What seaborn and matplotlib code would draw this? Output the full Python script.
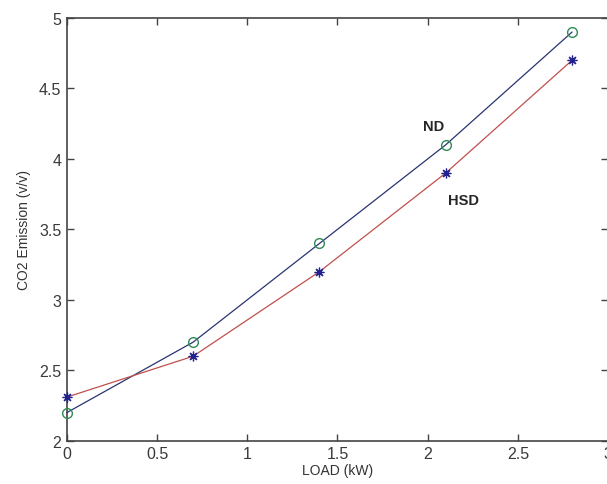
import matplotlib
matplotlib.use("Agg")
import matplotlib.pyplot as plt
import seaborn as sns

# Data
load_kw = [0.0, 0.7, 1.4, 2.1, 2.8]
co2_nd = [2.2, 2.7, 3.4, 4.1, 4.9]
co2_hsd = [2.31, 2.6, 3.2, 3.9, 4.7]

sns.set_style("white")
plt.rcParams['font.family'] = ['Liberation Sans', 'DejaVu Sans']

fig = plt.figure(figsize=(6.07, 4.85), dpi=100)
ax = fig.add_axes([0.11, 0.089, 0.892, 0.872])

# ND: blue line, green open circles
sns.lineplot(x=load_kw, y=co2_nd, ax=ax, color="#2a3470", linewidth=0.9,
             marker="o", markersize=7, markerfacecolor="none",
             markeredgecolor="#2f8a55", markeredgewidth=1.0, clip_on=False,
             zorder=3)
# HSD: red line, blue asterisks
sns.lineplot(x=load_kw, y=co2_hsd, ax=ax, color="#c0504d", linewidth=0.9,
             marker=(8, 2, 0), markersize=7,
             markeredgecolor="#22228f", markeredgewidth=0.9, clip_on=False,
             zorder=3)

ax.set_xlim(0, 3)
ax.set_ylim(2, 5)
ax.set_xticks([0, 0.5, 1, 1.5, 2, 2.5, 3])
ax.set_xticklabels(["0", "0.5", "1", "1.5", "2", "2.5", "3"])
ax.set_yticks([2, 2.5, 3, 3.5, 4, 4.5, 5])
ax.set_yticklabels(["2", "2.5", "3", "3.5", "4", "4.5", "5"])
ax.tick_params(direction="in", length=5, width=1, color="#444444",
               labelsize=11.5, labelcolor="#3a3a3a", top=True, right=True,
               bottom=True, left=True, pad=4)
for s in ax.spines.values():
    s.set_color("#444444")
    s.set_linewidth(1.2)

ax.set_xlabel("LOAD (kW)", fontsize=10, color="#333333", labelpad=1)
ax.set_ylabel("CO2 Emission (v/v)", fontsize=10, color="#333333", labelpad=6)

ax.text(2.035, 4.235, "ND", fontsize=10.5, fontweight="bold", ha="center", va="center")
ax.text(2.2, 3.71, "HSD", fontsize=10.5, fontweight="bold", ha="center", va="center")

fig.savefig("out.png", dpi=100)
